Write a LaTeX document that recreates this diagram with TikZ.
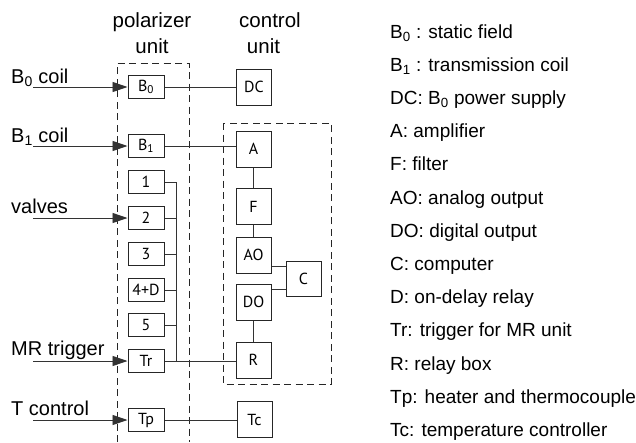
\documentclass[tikz,border=0pt]{standalone}
\usepackage{fontspec}
\setmainfont{Liberation Sans}
\newfontfamily\boxfont{PT Sans}
\usetikzlibrary{arrows.meta,calc}
\begin{document}
\begin{tikzpicture}[x=1pt,y=-1pt,
  ublock/.style={draw=black!85, line width=1pt, minimum width=36pt, minimum height=23pt, inner sep=0pt, font=\boxfont\fontsize{16}{18}\selectfont},
  cblock/.style={ublock, minimum width=35pt, minimum height=36pt},
  wire/.style={draw=black!80, line width=0.9pt},
  inarrow/.style={wire, -{Triangle[length=15pt,width=10pt]}},
  dashbox/.style={draw=black!85, line width=0.9pt, dash pattern=on 7pt off 4.5pt},
  lbl/.style={anchor=base west, inner sep=0pt, font=\fontsize{20}{24}\selectfont},
  hdr/.style={anchor=base, inner sep=0pt, font=\fontsize{20.5}{24}\selectfont},
  leg/.style={anchor=base west, inner sep=0pt, font=\fontsize{19}{23}\selectfont}]
\useasboundingbox (0,0) rectangle (636,442);

% headers
\node[hdr] (h1) at (152,27) {polarizer};
\node[hdr] (h2) at (152,53) {unit};
\node[hdr] (h3) at (270,27) {control};
\node[hdr] (h4) at (263.5,53) {unit};

% dashed frames
\draw[dashbox] (117,442) -- (117,63) -- (189,63) -- (189,442);
\draw[dashbox] (223,123) rectangle (331,384);

% polarizer blocks
\node[ublock] (pB0) at (146,87) {B\textsubscript{0}};
\node[ublock] (pB1) at (146,146) {B\textsubscript{1}};
\node[ublock] (p1) at (146,182) {1};
\node[ublock] (p2) at (146,218) {2};
\node[ublock] (p3) at (146,254) {3};
\node[ublock] (p4) at (146,290) {4+D};
\node[ublock] (p5) at (146,325) {5};
\node[ublock] (pTr) at (146,361) {Tr};
\node[ublock] (pTp) at (146,420) {Tp};

% control blocks
\node[cblock] (cDC) at (254,87) {DC};
\node[cblock] (cA) at (253.5,149) {A};
\node[cblock] (cF) at (253.5,206.5) {F};
\node[cblock] (cAO) at (253.5,255) {AO};
\node[cblock] (cDO) at (253.5,302) {DO};
\node[cblock] (cR) at (253.5,360) {R};
\node[cblock] (cTc) at (254.5,419.5) {Tc};
\node[cblock, minimum width=35pt, minimum height=35pt] (cC) at (303.5,278.5) {C};

% wires
\draw[wire] (pB0) -- (pB0 -| cDC.west);
\draw[wire] (pB1.east) -- (pB1.east -| cA.west);
\draw[wire] (pTr.east) -- (pTr.east -| cR.west);
\draw[wire] (pTp.east) -- (pTp.east -| cTc.west);
\draw[wire] (cA) -- (cF);
\draw[wire] (cF) -- (cAO);
\draw[wire] (cDO) -- (cR);
\draw[wire] ($(cAO.east)+(0,11)$) coordinate (ac) -- (ac -| cC.west);
\draw[wire] ($(cDO.east)+(0,-13)$) coordinate (dc) -- (dc -| cC.west);

% bus
\coordinate (bt) at (176,182);
\coordinate (bb) at (176,361);
\draw[wire] (bt) -- (bb);
\foreach \n in {p1,p2,p3,p4,p5} \draw[wire] (\n.east) -- (\n.east -| bt);

% input labels and arrows
\node[lbl] (lB0) at (11,83) {B\textsubscript{0} coil};
\node[lbl] (lB1) at (11,142) {B\textsubscript{1} coil};
\node[lbl] (lV) at (11,213) {valves};
\node[lbl] (lMR) at (11,355) {MR trigger};
\node[lbl] (lT) at (11,415) {T control};
\coordinate (aB0) at (33,87);
\coordinate (aB1) at (33,146);
\coordinate (aV) at (33,218);
\coordinate (aMR) at (33,361);
\coordinate (aT) at (33,420);
\draw[inarrow] (aB0) -- (pB0.west);
\draw[inarrow] (aB1) -- (pB1.west);
\draw[inarrow] (aV) -- (p2.west);
\draw[inarrow] (aMR) -- (pTr.west);
\draw[inarrow] (aT) -- (pTp.west);

% legend
\node[leg] (g1) at (390,38) {B\textsubscript{0} : static field};
\node[leg] (g2) at (390,71.2) {B\textsubscript{1} : transmission coil};
\node[leg] (g3) at (390,104.4) {DC: B\textsubscript{0} power supply};
\node[leg] (g4) at (390,137.6) {A: amplifier};
\node[leg] (g5) at (390,170.8) {F: filter};
\node[leg] (g6) at (390,204) {AO: analog output};
\node[leg] (g7) at (390,237.2) {DO: digital output};
\node[leg] (g8) at (390,270.4) {C: computer};
\node[leg] (g9) at (390,303.6) {D: on-delay relay};
\node[leg] (g10) at (390,336.8) {Tr: trigger for MR unit};
\node[leg] (g11) at (390,370) {R: relay box};
\node[leg] (g12) at (390,403.2) {Tp: heater and thermocouple};
\node[leg] (g13) at (390,436.4) {Tc: temperature controller};
\end{tikzpicture}
\end{document}
